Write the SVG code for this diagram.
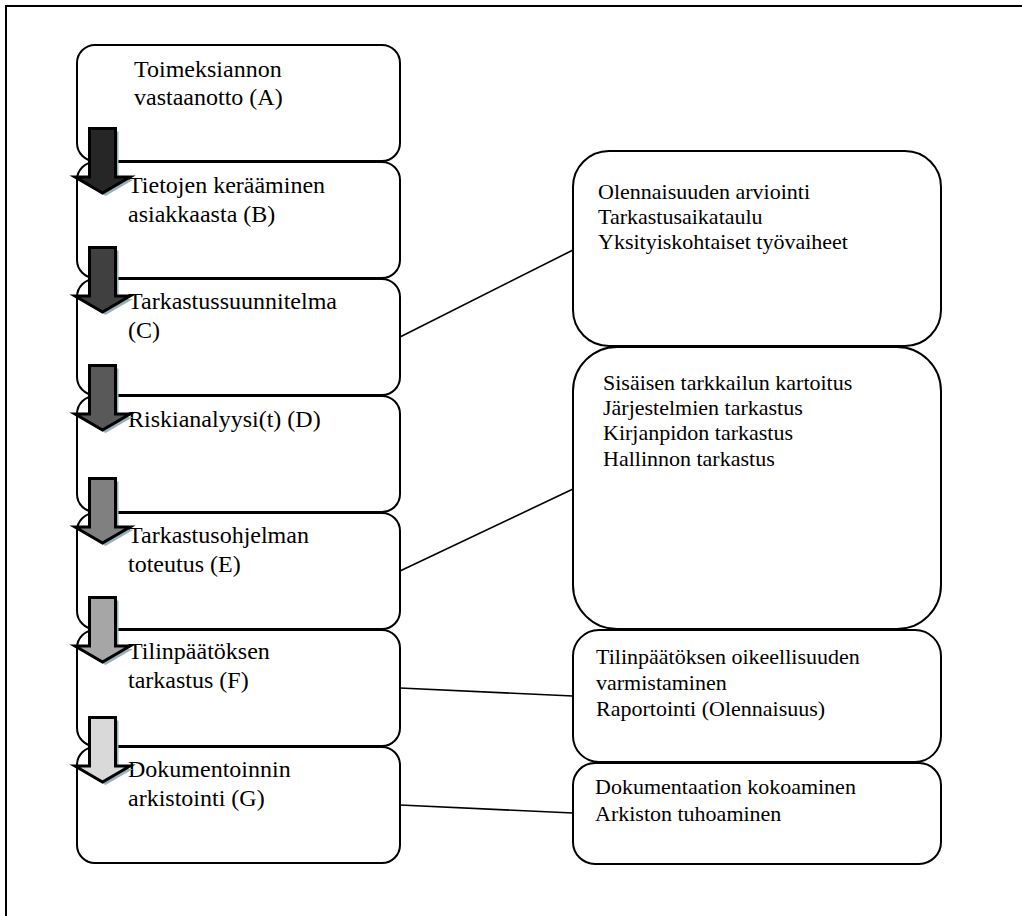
<svg xmlns="http://www.w3.org/2000/svg" width="1022" height="916" viewBox="0 0 1022 916">
  <style>
    .box { fill: #ffffff; stroke: #000000; stroke-width: 2; }
    .lbl { font-family: "Liberation Serif", "Times New Roman", serif; font-size: 24px; fill: #000000; }
    .sub { font-family: "Liberation Serif", "Times New Roman", serif; font-size: 22px; fill: #000000; }
    .link { stroke: #000000; stroke-width: 1.6; fill: none; }
    .arrow { stroke: #000000; stroke-width: 3; stroke-linejoin: miter; }
    .shadow { fill: #98b0b8; }
  </style>
  <defs>
    <!-- downward block arrow, top of shaft at y=0, centre x=0 -->
    <path id="down" d="M-13,1.5 H13 V50 H27.5 L0,66 L-27.5,50 H-13 Z"/>
  </defs>

  <!-- page frame -->
  <path d="M6,916 V6 H1022" fill="none" stroke="#000000" stroke-width="2"/>

  <!-- process steps -->
  <g id="step-a">
    <rect class="box" x="77" y="45" width="323" height="116" rx="18"/>
    <text class="lbl" x="134" y="77">Toimeksiannon</text>
    <text class="lbl" x="134" y="105">vastaanotto (A)</text>
  </g>
  <g id="step-b">
    <rect class="box" x="77" y="162" width="323" height="116" rx="18"/>
    <text class="lbl" x="128" y="193">Tietojen kerääminen</text>
    <text class="lbl" x="128" y="222">asiakkaasta (B)</text>
  </g>
  <g id="step-c">
    <rect class="box" x="77" y="279" width="323" height="116" rx="18"/>
    <text class="lbl" x="128" y="309">Tarkastussuunnitelma</text>
    <text class="lbl" x="128" y="338">(C)</text>
  </g>
  <g id="step-d">
    <rect class="box" x="77" y="396" width="323" height="116" rx="18"/>
    <text class="lbl" x="128" y="427">Riskianalyysi(t) (D)</text>
  </g>
  <g id="step-e">
    <rect class="box" x="77" y="513" width="323" height="116" rx="18"/>
    <text class="lbl" x="128" y="543">Tarkastusohjelman</text>
    <text class="lbl" x="128" y="572">toteutus (E)</text>
  </g>
  <g id="step-f">
    <rect class="box" x="77" y="630" width="323" height="116" rx="18"/>
    <text class="lbl" x="128" y="659">Tilinpäätöksen</text>
    <text class="lbl" x="128" y="688">tarkastus (F)</text>
  </g>
  <g id="step-g">
    <rect class="box" x="77" y="747" width="323" height="116" rx="18"/>
    <text class="lbl" x="128" y="777">Dokumentoinnin</text>
    <text class="lbl" x="128" y="806">arkistointi (G)</text>
  </g>

  <!-- detail boxes -->
  <g id="detail-c">
    <rect class="box" x="573" y="151" width="368" height="195" rx="36"/>
    <text class="sub" x="598" y="199">Olennaisuuden arviointi</text>
    <text class="sub" x="598" y="224">Tarkastusaikataulu</text>
    <text class="sub" x="598" y="249">Yksityiskohtaiset työvaiheet</text>
  </g>
  <g id="detail-e">
    <rect class="box" x="573" y="347" width="368" height="282" rx="44"/>
    <text class="sub" x="603" y="390">Sisäisen tarkkailun kartoitus</text>
    <text class="sub" x="603" y="415">Järjestelmien tarkastus</text>
    <text class="sub" x="603" y="440">Kirjanpidon tarkastus</text>
    <text class="sub" x="603" y="466">Hallinnon tarkastus</text>
  </g>
  <g id="detail-f">
    <rect class="box" x="573" y="630" width="368" height="132" rx="26"/>
    <text class="sub" x="596" y="664">Tilinpäätöksen oikeellisuuden</text>
    <text class="sub" x="596" y="690">varmistaminen</text>
    <text class="sub" x="596" y="716">Raportointi (Olennaisuus)</text>
  </g>
  <g id="detail-g">
    <rect class="box" x="573" y="763" width="368" height="101" rx="22"/>
    <text class="sub" x="595" y="794">Dokumentaation kokoaminen</text>
    <text class="sub" x="595" y="821">Arkiston tuhoaminen</text>
  </g>

  <g id="connectors">
    <!-- links from steps to their details -->
    <line class="link" x1="400" y1="337" x2="573" y2="250"/>
    <line class="link" x1="400" y1="571" x2="573" y2="489"/>
    <line class="link" x1="400" y1="688" x2="573" y2="696"/>
    <line class="link" x1="400" y1="805" x2="573" y2="813"/>

    <!-- flow arrows between steps, darkest first -->
    <g transform="translate(102.5,127)">
      <use href="#down" class="shadow" transform="translate(3,3)"/>
      <use href="#down" class="arrow" fill="#262626"/>
    </g>
    <g transform="translate(102.5,246)">
      <use href="#down" class="shadow" transform="translate(3,3)"/>
      <use href="#down" class="arrow" fill="#404040"/>
    </g>
    <g transform="translate(102.5,364)">
      <use href="#down" class="shadow" transform="translate(3,3)"/>
      <use href="#down" class="arrow" fill="#595959"/>
    </g>
    <g transform="translate(102.5,477)">
      <use href="#down" class="shadow" transform="translate(3,3)"/>
      <use href="#down" class="arrow" fill="#808080"/>
    </g>
    <g transform="translate(102.5,596)">
      <use href="#down" class="shadow" transform="translate(3,3)"/>
      <use href="#down" class="arrow" fill="#a6a6a6"/>
    </g>
    <g transform="translate(102.5,716)">
      <use href="#down" class="shadow" transform="translate(3,3)"/>
      <use href="#down" class="arrow" fill="#d9d9d9"/>
    </g>
  </g>
</svg>
